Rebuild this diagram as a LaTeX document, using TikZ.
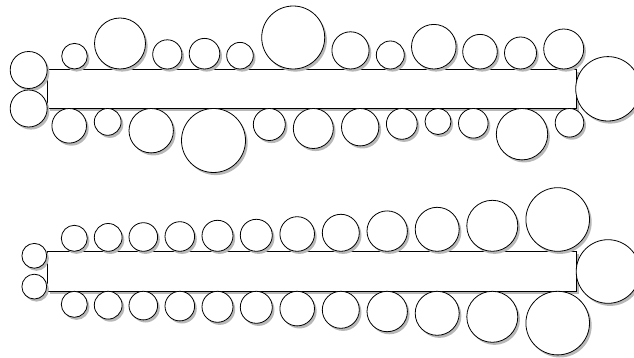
\documentclass[tikz,border=0pt]{standalone}
\usetikzlibrary{shadows}
\tikzset{
  x=1pt,y=-1pt,
  myshadow/.style={drop shadow={shadow xshift=2.2pt,shadow yshift=-2.6pt,fill=black!28,opacity=1}},
  tablebox/.style={draw=black,line width=0.8pt,fill=white,myshadow},
  seat/.style={circle,draw=black,line width=0.8pt,fill=white,inner sep=0pt,myshadow},
}
\begin{document}
\begin{tikzpicture}
\useasboundingbox (0,0) rectangle (634,358);
% ---------- upper table ----------
\node[tablebox,minimum width=528.8pt,minimum height=39.5pt,inner sep=0pt] (tableA) at (311.9,88.75) {};
\foreach \x/\r [count=\i] in {74.5/12.8,120/25.5,167.3/14.6,204.5/15.3,240/13.3,293.2/31.5,350.5/18.6,390.3/14,433.8/22.3,480/17.3,520.5/16,563.7/20}
  \node[seat,minimum size=2*\r pt] (au\i) at (\x,69-\r) {};
\foreach \x/\r [count=\i] in {69.2/17.3,107.7/13.4,151.2/22.2,213.5/32,269.3/16,313.3/20,360.2/18.7,401.8/15.4,438/13,473.3/14.8,522/25.7,569.5/14.3}
  \node[seat,minimum size=2*\r pt] (ad\i) at (\x,108.5+\r) {};
\node[seat,minimum size=37pt] (al1) at (28.7,70) {};
\node[seat,minimum size=37pt] (al2) at (28.7,108.5) {};
\node[seat,minimum size=64.4pt] (ar) at (607.9,88.8) {};
% ---------- lower table ----------
\node[tablebox,minimum width=528.6pt,minimum height=40pt,inner sep=0pt] (tableB) at (312,271.3) {};
\foreach \x/\r [count=\i] in {74.3/13,108.2/13.9,143.3/14.3,179.8/14.8,217.5/15.5,256.3/16,297.2/17.3,340.8/18.5,387.2/20.2,437.2/22,492.3/25.5,557.7/31.8}{
  \node[seat,minimum size=2*\r pt] (bu\i) at (\x,251.3-\r) {};
  \node[seat,minimum size=2*\r pt] (bd\i) at (\x,291.3+\r) {};
}
\node[seat,minimum size=24.8pt] (bl1) at (34.3,255.8) {};
\node[seat,minimum size=24.8pt] (bl2) at (34.3,286.6) {};
\node[seat,minimum size=63.6pt] (br) at (608,271.5) {};
\end{tikzpicture}
\end{document}
